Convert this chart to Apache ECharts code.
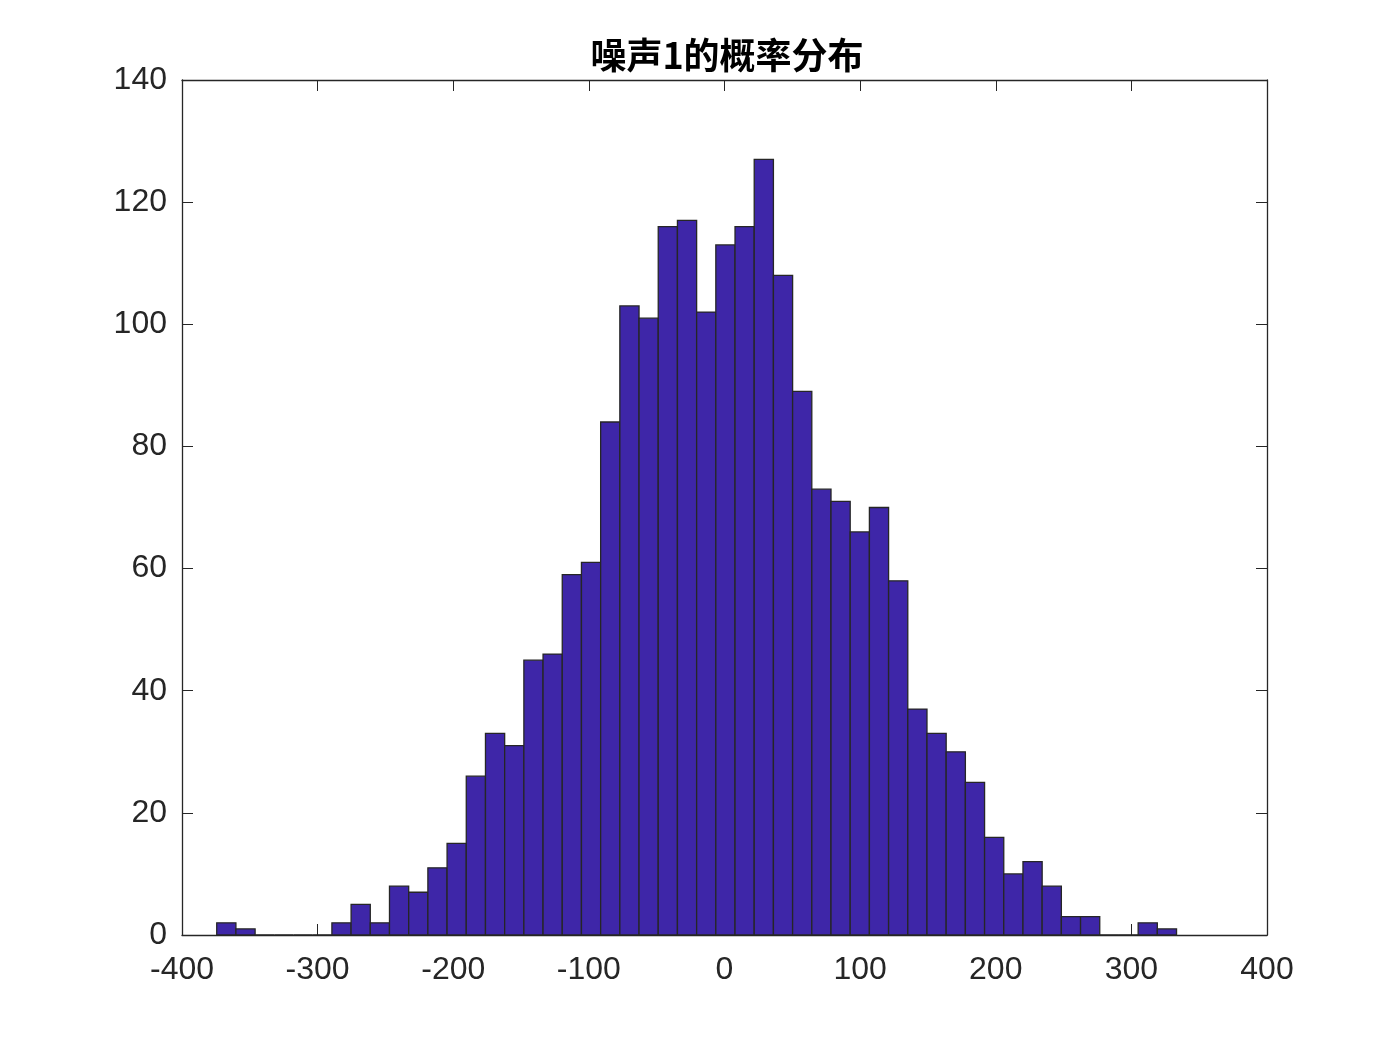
<!DOCTYPE html>
<html>
<head>
<meta charset="utf-8">
<script src="https://cdn.jsdelivr.net/npm/echarts@6/dist/echarts.min.js"></script>
<style>
html,body{margin:0;padding:0;background:#fff;}
#chart{width:1400px;height:1050px;}
</style>
</head>
<body>
<div id="chart"></div>
<script>
// Histogram data (50 bins between the data minimum and maximum)
var titleText = '噪声1的概率分布';
var binMin = -374.4;
var binMax = 333.3;
var counts = [2, 1, 0, 0, 0, 0, 2, 5, 2, 8,
              7, 11, 15, 26, 33, 31, 45, 46, 59, 61,
              84, 103, 101, 116, 117, 102, 113, 116, 127, 108,
              89, 73, 71, 66, 70, 58, 37, 33, 30, 25,
              16, 10, 12, 8, 3, 3, 0, 0, 2, 1];
var xTicks = [-400, -300, -200, -100, 0, 100, 200, 300, 400];
var yTicks = [0, 20, 40, 60, 80, 100, 120, 140];

var binWidth = (binMax - binMin) / counts.length;
var data = counts.map(function (c, i) {
  return [binMin + i * binWidth, binMin + (i + 1) * binWidth, c];
});

var axisColor = '#262626';
var fontFam = '"Liberation Sans", Arial, Helvetica, sans-serif';

var chart = echarts.init(document.getElementById('chart'), null, {renderer: 'canvas'});
var commonX = {
  type: 'value',
  min: xTicks[0], max: xTicks[xTicks.length - 1], interval: 100,
  axisLine: {show: true, onZero: false, lineStyle: {color: axisColor, width: 1.3}},
  axisTick: {show: true, inside: true, length: 11, lineStyle: {color: axisColor, width: 1}},
  splitLine: {show: false}
};
var commonY = {
  type: 'value',
  min: yTicks[0], max: yTicks[yTicks.length - 1], interval: 20,
  axisLine: {show: true, onZero: false, lineStyle: {color: axisColor, width: 1.3}},
  axisTick: {show: true, inside: true, length: 11, lineStyle: {color: axisColor, width: 1}},
  splitLine: {show: false}
};
chart.setOption({
  animation: false,
  backgroundColor: '#ffffff',
  title: {
    text: titleText,
    left: 722,
    top: 32,
    textAlign: 'center',
    textStyle: {fontFamily: '"Noto Sans CJK SC", sans-serif', fontWeight: 'bold', fontSize: 36, color: '#000'}
  },
  grid: {left: 182, right: 133, top: 80, bottom: 115, containLabel: false},
  xAxis: [
    Object.assign({}, commonX, {
      position: 'bottom',
      axisLabel: {show: true, fontSize: 32, color: axisColor, margin: 19, fontFamily: fontFam}
    }),
    Object.assign({}, commonX, {position: 'top', axisLabel: {show: false}})
  ],
  yAxis: [
    Object.assign({}, commonY, {
      position: 'left',
      axisLabel: {show: true, fontSize: 32, color: axisColor, margin: 15, fontFamily: fontFam}
    }),
    Object.assign({}, commonY, {position: 'right', axisLabel: {show: false}})
  ],
  series: [{
    type: 'custom',
    xAxisIndex: 0,
    yAxisIndex: 0,
    encode: {x: [0, 1], y: 2},
    data: data,
    renderItem: function (params, api) {
      var p0 = api.coord([api.value(0), api.value(2)]);
      var p1 = api.coord([api.value(1), 0]);
      return {
        type: 'rect',
        shape: {x: p0[0], y: p0[1], width: p1[0] - p0[0], height: p1[1] - p0[1]},
        style: {fill: '#3e26a8', stroke: '#262626', lineWidth: 1.3}
      };
    }
  }]
});
</script>
</body>
</html>
